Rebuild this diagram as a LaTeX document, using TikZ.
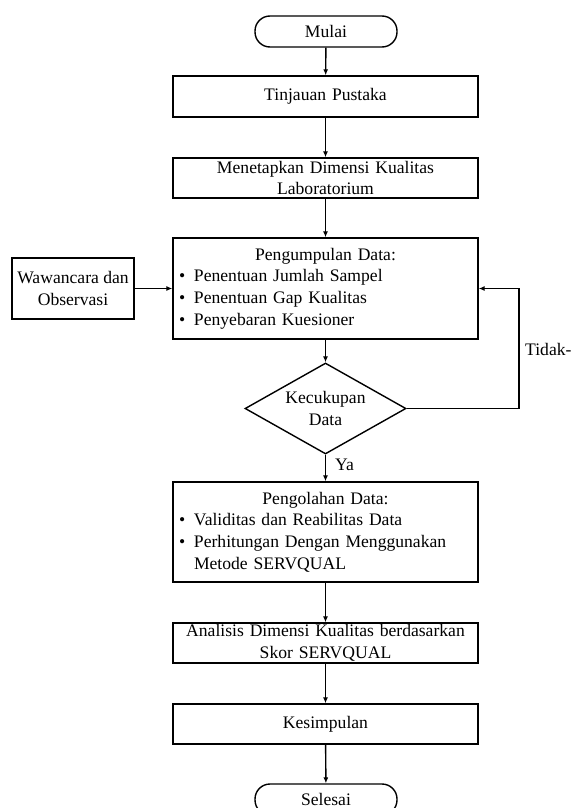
\documentclass[tikz,border=0pt]{standalone}
\usepackage{fontspec}
\setmainfont{Liberation Serif}
\usetikzlibrary{arrows.meta,shapes.geometric}
\newcommand{\butir}[1]{\makebox[15pt][l]{\textbullet}#1}

\begin{document}
\begin{tikzpicture}[x=1pt,y=-1pt,
    every node/.style={font=\fontsize{17.6pt}{21.6pt}\selectfont},
    kotak/.style={draw,line width=1.4pt,minimum width=305pt,text width=293pt,inner xsep=6pt,inner ysep=0pt,align=center},
    ujung/.style={draw,line width=1.4pt,rounded corners=15pt,minimum width=142pt,minimum height=31pt,inner sep=0pt},
    putusan/.style={draw,line width=1.4pt,diamond,aspect=1.77,minimum width=161pt,minimum height=91pt,inner sep=0pt,align=center},
    panah/.style={-{Latex[length=6pt,width=5pt]},line width=1.4pt}]
    \useasboundingbox (0,0) rectangle (572,808);
    % alur utama
    \node[ujung] (mulai) at (326,31.5) {Mulai};
    \node[kotak,minimum height=41pt] (tinjauan) at (325.5,96.5) {Tinjauan Pustaka};
    \node[kotak,minimum height=40pt] (dimensi) at (325.5,178) {Menetapkan Dimensi Kualitas\\Laboratorium};
    \node[kotak,minimum height=101pt,align=left] (kumpul) at (325.5,288.5) {\makebox[293pt][c]{Pengumpulan Data:}\\\butir{Penentuan Jumlah Sampel}\\\butir{Penentuan Gap Kualitas}\\\butir{Penyebaran Kuesioner}};
    \node[draw,line width=1.4pt,minimum width=122pt,minimum height=61pt,inner sep=0pt,align=center] (wawancara) at (73,288.5) {Wawancara dan\\Observasi};
    \node[putusan] (cukup) at (325.5,408.5) {Kecukupan\\Data};
    \node[kotak,minimum height=100pt,align=left] (olah) at (325.5,532) {\makebox[293pt][c]{Pengolahan Data:}\\\butir{Validitas dan Reabilitas Data}\\\butir{Perhitungan Dengan Menggunakan}\\\hspace*{15pt}Metode SERVQUAL};
    \node[kotak,minimum height=40pt] (analisis) at (325.5,643) {Analisis Dimensi Kualitas berdasarkan\\Skor SERVQUAL};
    \node[kotak,minimum height=40pt] (simpul) at (325.5,724) {Kesimpulan};
    \node[ujung] (selesai) at (326,799.5) {Selesai};
    % label cabang
    \node[anchor=west,inner sep=0pt] (ya) at (335,465) {Ya};
    \node[anchor=west,inner sep=0pt] (tidak) at (525,349) {Tidak-};
    \coordinate (sudut) at (519,408.5);
    % panah
    \draw[panah] (mulai) -- (tinjauan);
    \draw[panah] (tinjauan) -- (dimensi);
    \draw[panah] (dimensi) -- (kumpul);
    \draw[panah] (wawancara) -- (kumpul);
    \draw[panah] (kumpul) -- (cukup);
    \draw[panah] (cukup) -- (olah);
    \draw[panah] (cukup.east) -- (sudut) |- (kumpul.east);
    \draw[panah] (olah) -- (analisis);
    \draw[panah] (analisis) -- (simpul);
    \draw[panah] (simpul) -- (selesai);
\end{tikzpicture}
\end{document}
